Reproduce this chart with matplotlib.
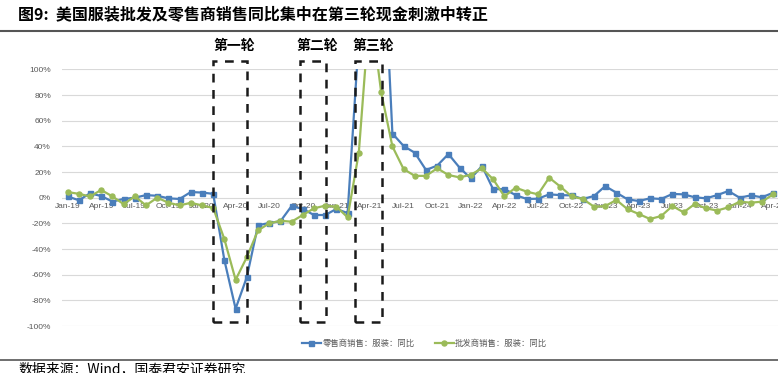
import matplotlib.pyplot as plt
from matplotlib.lines import Line2D
from matplotlib.patches import Rectangle

plt.rcParams['font.family'] = ['Liberation Sans', 'Noto Sans CJK SC', 'DejaVu Sans']

# monthly data, Jan-19 .. Apr-24 (yoy %)
months = []
for yr in range(19, 25):
    for mon in ["Jan", "Feb", "Mar", "Apr", "May", "Jun",
                "Jul", "Aug", "Sep", "Oct", "Nov", "Dec"]:
        months.append(f"{mon}-{yr}")
months = months[:64]

retail = [
    1, -2, 3.4, 1.3, -3, -1, 0, 2, 1.5, -0.5, -1, 4.4,
    4, 3, -48.8, -86.5, -62, -21.5, -19.7, -18.4, -6.5, -8.8, -13.5, -13.5,
    -8.8, -12, 124, 700, 233, 50, 40.3, 35, 21.6, 25, 34, 23.4,
    15, 24.7, 6.5, 6.8, 2, -1, -0.8, 2.6, 2, 1.8, -1, 1.3,
    9, 3.9, -1.3, -2.6, -0.5, -1, 2.9, 2.6, 0.3, -0.5, 2, 5.2,
    0, 1.8, 0.3, 3.9,
]

wholesale = [
    4.4, 3, 1, 6, 1, -5, 1, -6, 0, -3.9, -6, -4,
    -6, -8, -32.4, -64, -46.4, -25.5, -20, -18, -18.7, -13.5, -8.3, -6.2,
    -7, -15.3, 35, 150, 82, 40, 22.3, 17, 17, 22.9, 17.7, 15.8,
    17.9, 22.9, 14.3, 1, 7.8, 4.7, 2.6, 15.6, 8.6, 1, -1, -7,
    -6.5, -1.8, -9, -12.7, -16.6, -14.3, -6.5, -11.4, -4.9, -8.3, -10, -7.5,
    -3.1, -3.9, -3.1, 2.6,
]

retail_label = "零售商销售：服装：同比"
wholesale_label = "批发商销售：服装：同比"
yticks = [-100, -80, -60, -40, -20, 0, 20, 40, 60, 80, 100]

# stimulus rounds: (label, first month idx, last month idx)
rounds = [("第一轮", 13, 16), ("第二轮", 20.75, 23.05), ("第三轮", 25.7, 28.1)]

blue = "#4a7ebb"
green = "#9bbb59"
grey = "#595959"

fig = plt.figure(figsize=(7.78, 3.73), dpi=100)
ax = fig.add_axes([62 / 778, 0.126, 716.8 / 778, 0.688])

x = list(range(len(months)))
ax.plot(x, retail, color=blue, lw=1.6, marker="s", ms=3.6, zorder=3)
ax.plot(x, wholesale, color=green, lw=1.6, marker="o", ms=3.6, zorder=3)

ax.set_xlim(-0.5, len(months) - 0.5)
ax.set_ylim(-100, 100)
ax.set_yticks(yticks)
ax.set_yticklabels([f"{v}%" for v in yticks])
ax.set_xticks(x[::3])
ax.set_xticklabels(months[::3])

ax.set_axisbelow(True)
ax.grid(axis="y", color="#d9d9d9", lw=0.8)
for s in ["top", "right", "left"]:
    ax.spines[s].set_visible(False)
ax.spines["bottom"].set_position(("data", 0))
ax.spines["bottom"].set_visible(False)
ax.tick_params(axis="both", length=0, labelsize=6, labelcolor=grey)
ax.tick_params(axis="x", pad=3.5)
ax.tick_params(axis="y", pad=8)

# dashed boxes around stimulus rounds
for name, x0, x1 in rounds:
    ax.add_patch(Rectangle((x0, -96.8), x1 - x0, 203.3, fill=False,
                           ec="#1a1a1a", lw=1.8, ls=(0, (3.5, 3)),
                           clip_on=False, zorder=5))
    ax.text((x0 + x1) / 2 + 0.4, 118, name, ha="center", va="center",
            fontsize=10, fontweight="bold", family=["Noto Sans CJK SC"])

handles = [
    Line2D([], [], color=blue, lw=1.6, marker="s", ms=3.6),
    Line2D([], [], color=green, lw=1.6, marker="o", ms=3.6),
]
fig.legend(handles, [retail_label, wholesale_label], loc="center",
           bbox_to_anchor=(0.546, 0.080), ncol=2, frameon=False,
           fontsize=6, labelcolor=grey, handlelength=2.2, columnspacing=2.5,
           handletextpad=0.2, prop={"family": ["Noto Sans CJK SC"], "size": 6})

fig.text(18 / 778, 1 - 14 / 373,
         "图9:  美国服装批发及零售商销售同比集中在第三轮现金刺激中转正",
         ha="left", va="center", fontsize=11.5, fontweight="bold",
         family=["Noto Sans CJK SC"])
fig.add_artist(Line2D([0, 1], [1 - 31 / 373, 1 - 31 / 373], color="#555555", lw=1.5))
fig.add_artist(Line2D([0, 1], [1 - 360 / 373, 1 - 360 / 373], color="#555555", lw=1.2))

fig.text(18 / 778, 1 - 362 / 373, "数据来源：Wind，国泰君安证券研究",
         ha="left", va="top", fontsize=10, family=["Noto Sans CJK SC"])

fig.savefig("out.png", dpi=100)
